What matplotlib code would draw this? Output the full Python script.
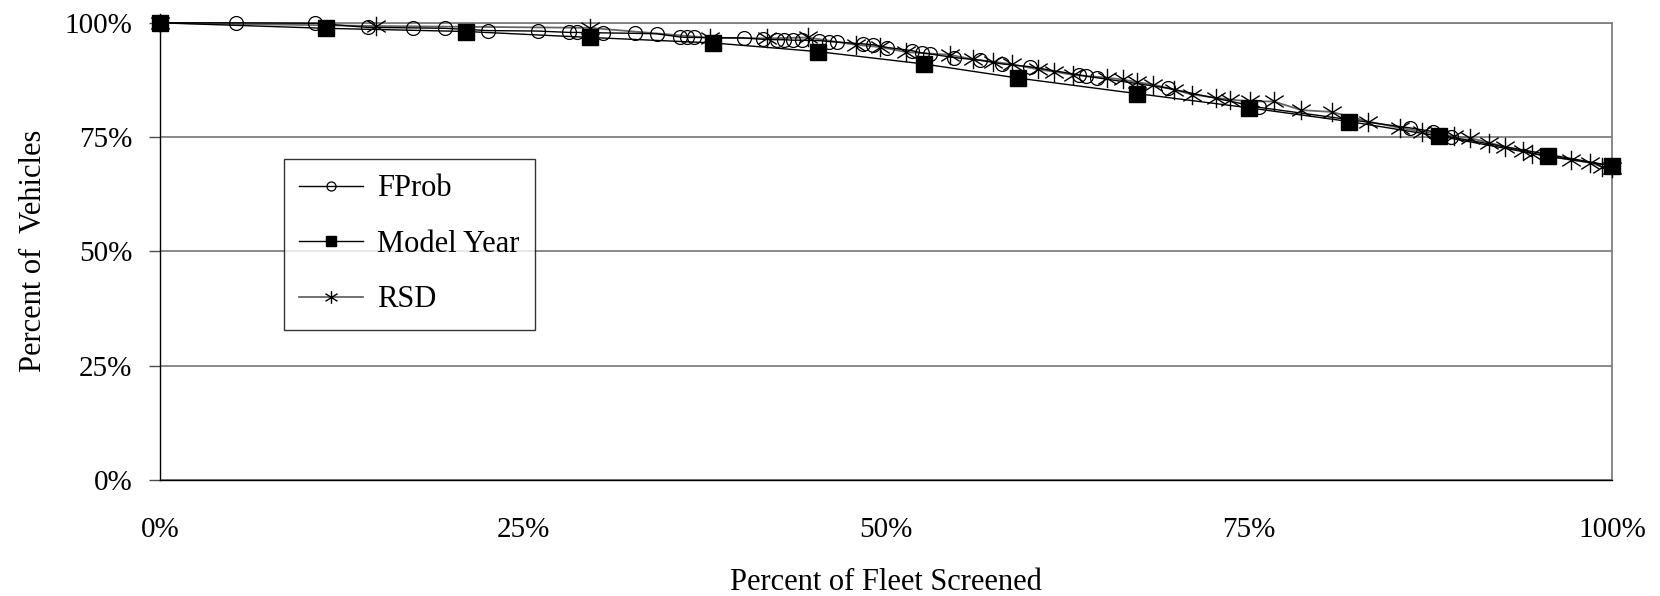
import matplotlib
matplotlib.use("Agg")
import matplotlib.pyplot as plt
from matplotlib.path import Path
from matplotlib.ticker import FuncFormatter

plt.rcParams['font.family'] = ['Liberation Serif', 'DejaVu Serif']

fprob_x = [0, 5.2, 10.7, 14.3, 17.4, 19.6, 22.6, 26.0, 28.2, 28.7, 30.5, 32.7, 34.2,
           35.8, 36.3, 36.8, 40.2, 41.5, 42.5, 43.0, 43.6, 44.2, 45.4, 46.1, 46.6,
           48.4, 49.1, 50.1, 51.8, 52.5, 53.0, 54.7, 56.5, 58.0, 59.9, 63.3, 63.8,
           64.5, 69.4, 75.7, 86.1, 87.7, 88.9, 100]
fprob_y = [100, 100, 99.9, 99.0, 98.9, 98.8, 98.3, 98.2, 97.9, 97.9, 97.8, 97.7, 97.6,
           96.9, 96.8, 96.8, 96.7, 96.4, 96.3, 96.3, 96.2, 96.2, 96.1, 95.9, 95.8,
           95.4, 95.2, 94.6, 93.9, 93.4, 93.2, 92.4, 91.8, 91.0, 90.4, 88.6, 88.3,
           88.0, 85.7, 81.5, 77.0, 76.2, 75.0, 68.7]

model_x = [0, 11.4, 21.1, 29.6, 38.1, 45.3, 52.6, 59.1, 67.3, 75.0, 81.9, 88.1, 95.6, 100]
model_y = [100, 98.8, 98.1, 96.8, 95.6, 93.7, 91.0, 87.9, 84.5, 81.4, 78.4, 75.2, 70.8, 68.7]

rsd_x = [0, 14.9, 29.6, 37.9, 41.8, 44.6, 47.9, 49.6, 51.4, 54.4, 56.0, 57.4, 58.7,
         60.5, 61.6, 62.9, 65.2, 66.3, 67.3, 68.4, 69.8, 71.1, 72.7, 73.7, 75.1,
         76.7, 78.6, 80.7, 83.2, 85.4, 86.9, 89.1, 90.2, 91.5, 92.6, 93.9, 94.5,
         97.2, 98.5, 99.3, 100]
rsd_y = [100, 99.3, 98.9, 96.7, 96.6, 96.8, 95.2, 94.7, 93.6, 93.0, 92.0, 91.5, 90.9,
         89.8, 89.3, 88.6, 88.0, 87.6, 87.0, 86.5, 85.4, 84.3, 83.6, 83.2, 82.8,
         82.8, 80.9, 80.5, 78.4, 77.0, 76.2, 75.2, 74.8, 73.8, 72.9, 71.9, 71.4,
         70.0, 69.4, 68.5, 68.3]

xticks = [0, 25, 50, 75, 100]
yticks = [0, 25, 50, 75, 100]

star = Path([(0, -1), (0, 1), (-0.95, -0.6), (0.95, 0.6), (-0.95, 0.6), (0.95, -0.6)],
            [Path.MOVETO, Path.LINETO, Path.MOVETO, Path.LINETO, Path.MOVETO, Path.LINETO])

fig = plt.figure(figsize=(16.6, 5.96), dpi=100)
ax = fig.add_axes([0.0964, 0.195, 0.8747, 0.7667])

ax.plot(rsd_x, rsd_y, color='0.4', lw=1.3, marker=star, ms=14, mec='black',
        mfc='none', mew=1.0, label='RSD', zorder=3, clip_on=False)
ax.plot(fprob_x, fprob_y, color='black', lw=1.0, marker='o', ms=10, mec='black',
        mfc='none', mew=0.9, label='FProb', zorder=4, clip_on=False)
ax.plot(model_x, model_y, color='black', lw=1.0, marker='s', ms=11, mec='black',
        mfc='black', label='Model Year', zorder=5, clip_on=False)

ax.set_xlim(0, 100)
ax.set_ylim(0, 100)
ax.set_xticks(xticks)
ax.set_yticks(yticks)
fmt = FuncFormatter(lambda v, p: f"{int(v)}%")
ax.xaxis.set_major_formatter(fmt)
ax.yaxis.set_major_formatter(fmt)
ax.yaxis.grid(True, color='0.5', lw=1.3)
ax.set_axisbelow(True)
for s in ['top', 'right']:
    ax.spines[s].set_color('0.5')
    ax.spines[s].set_linewidth(1.3)
for s in ['left', 'bottom']:
    ax.spines[s].set_color('black')
    ax.spines[s].set_linewidth(1.0)
ax.tick_params(axis='y', length=8, width=1, direction='out', pad=12, labelsize=21, color='0.3')
ax.tick_params(axis='x', length=0, pad=27, labelsize=21)

ax.set_xlabel('Percent of Fleet Screened', fontsize=22, labelpad=18)
ax.set_ylabel('Percent of  Vehicles', fontsize=22, labelpad=12)

h, l = ax.get_legend_handles_labels()
order = [1, 2, 0]
leg = ax.legend([h[i] for i in order], [l[i] for i in order],
                loc='upper left', bbox_to_anchor=(0.0854, 0.702),
                fontsize=22, frameon=True, fancybox=False, edgecolor='black',
                handlelength=2.1, labelspacing=0.87, borderpad=0.5,
                handletextpad=0.45, borderaxespad=0, markerscale=0.65)
leg.get_frame().set_linewidth(1.0)
leg.set_zorder(10)

fig.savefig('out.png', dpi=100)
